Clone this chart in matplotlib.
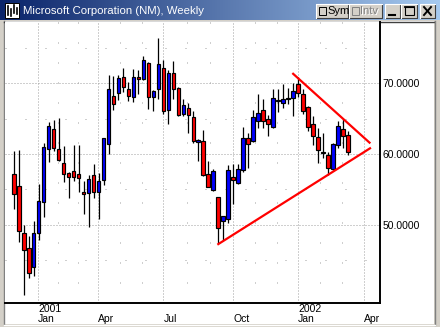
import numpy as np
import matplotlib
matplotlib.use("Agg")
import matplotlib.pyplot as plt
from matplotlib.patches import Rectangle
from matplotlib.colors import LinearSegmentedColormap

# weekly candles, late Nov 2000 .. mid Mar 2002
opens = [57.2, 55.5, 48.9, 46.7, 44.1, 48.9, 53.3, 60.7, 63.5, 60.7,
         58.7, 57.3, 57.6, 57.2, 54.6, 54.5, 57.1, 54.7, 56.4, 61.4,
         68.2, 68.6, 70.8, 69.2, 68.0, 70.8, 70.6, 72.8, 68.0, 69.2,
         72.1, 66.2, 71.4, 69.3, 65.6, 66.5, 65.2, 61.7, 61.8, 57.2,
         54.9, 53.9, 50.6, 50.9, 56.8, 55.9, 57.8, 62.2, 61.8, 64.6,
         66.2, 65.0, 63.8, 67.5, 67.2, 67.8, 67.9, 69.8, 68.4, 66.6,
         64.2, 62.4, 60.2, 59.9, 57.9, 61.2, 63.5, 62.7]
highs = [60.4, 60.5, 50.0, 48.5, 50.5, 55.8, 61.5, 64.5, 64.8, 65.1,
         61.1, 57.5, 61.2, 61.2, 56.2, 57.0, 58.6, 57.3, 62.3, 71.2,
         71.0, 71.2, 72.1, 70.2, 72.0, 71.9, 73.8, 73.0, 69.0, 76.3,
         73.3, 71.9, 73.1, 69.4, 67.7, 67.2, 66.1, 62.1, 63.4, 59.0,
         57.9, 54.0, 51.3, 58.4, 58.6, 58.6, 63.8, 63.0, 66.2, 68.4,
         67.7, 65.5, 69.1, 69.1, 69.9, 69.3, 70.0, 70.9, 69.1, 66.7,
         65.3, 63.6, 63.0, 60.3, 61.5, 64.7, 65.0, 63.2]
lows = [52.2, 47.6, 40.1, 42.5, 42.8, 47.9, 51.1, 58.8, 60.4, 59.0,
        56.0, 53.8, 56.2, 54.7, 51.5, 49.7, 53.8, 50.9, 55.6, 60.0,
        66.2, 67.6, 68.7, 67.4, 67.3, 68.5, 70.4, 66.3, 66.0, 67.7,
        65.6, 64.2, 67.7, 65.3, 65.4, 63.0, 61.5, 59.0, 56.9, 55.3,
        54.8, 47.4, 47.9, 50.3, 52.9, 55.8, 57.4, 58.0, 61.7, 63.6,
        63.7, 62.6, 63.7, 65.9, 66.5, 67.1, 65.4, 68.0, 65.6, 63.2,
        61.3, 58.7, 59.5, 57.1, 57.8, 60.8, 60.8, 59.8]
closes = [54.4, 49.2, 46.4, 43.2, 48.9, 53.4, 61.0, 63.9, 60.8, 59.2,
          57.2, 56.8, 56.7, 56.6, 54.4, 56.5, 54.6, 56.2, 62.2, 69.1,
          67.1, 70.7, 69.4, 68.2, 70.9, 70.5, 73.2, 68.0, 68.9, 72.7,
          66.1, 71.4, 69.2, 65.5, 66.9, 65.5, 61.8, 62.0, 57.0, 55.4,
          57.6, 49.6, 51.2, 57.8, 56.4, 57.9, 62.3, 61.4, 65.2, 65.8,
          64.6, 64.2, 67.9, 67.6, 67.7, 67.9, 68.9, 68.6, 66.1, 63.8,
          62.6, 60.6, 60.1, 58.0, 61.4, 64.0, 62.6, 60.3]

quarter_pos = [4.93, 16.95, 29.98, 44.0, 57.0, 70.2]
quarter_labels = ["2001\nJan", "\nApr", "\nJul", "\nOct", "2002\nJan", "\nApr"]
price_ticks = [50, 60, 70]
price_labels = ["50.0000", "60.0000", "70.0000"]
minor_prices = [45, 55, 65, 75]

# triangle drawn on the chart
upper_x = [56.0, 71.3]
upper_y = [71.3, 61.6]
lower_x = [41.0, 71.4]
lower_y = [47.3, 60.8]

title = "Microsoft Corporation (NM), Weekly"
FONT = "Liberation Sans"
W, H = 440, 327

fig = plt.figure(figsize=(W / 100, H / 100), dpi=100, facecolor="#d4d0c8")

# window chrome in pixel coordinates
ui = fig.add_axes([0, 0, 1, 1])
ui.axis("off")
cmap = LinearSegmentedColormap.from_list("tb", ["#0a246a", "#a6caf0"])
ui.imshow(np.linspace(0, 1, 256)[None, :], extent=[0, W, 20, 0], cmap=cmap,
          aspect="auto")
ui.add_patch(Rectangle((4, 21), 430, 303, fc="white", ec="none"))
ui.plot([3.5, 3.5], [21, 324], color="#808080", lw=1)
ui.plot([3.5, 434], [21.5, 21.5], color="#404040", lw=1)
ui.plot([434.5, 434.5], [21, 325], color="#808080", lw=1)
ui.plot([3.5, 434.5], [324.5, 324.5], color="#ffffff", lw=1)

# icon
ui.add_patch(Rectangle((5, 3), 14, 15, fc="white", ec="black", lw=0.7))
for bx, top, bot in [(8, 6, 15), (11, 9, 16), (14, 5, 13), (17, 8, 14)]:
    ui.plot([bx, bx], [top, bot], color="black", lw=1.2)
ui.text(23, 10.5, title, color="white", fontsize=8.2, family=FONT,
        va="center", ha="left")


def button(x0, y0, w, h):
    ui.add_patch(Rectangle((x0, y0), w, h, fc="#d4d0c8", ec="none"))
    ui.plot([x0, x0 + w, x0 + w], [y0 + h, y0 + h, y0], color="#404040", lw=0.8)
    ui.plot([x0, x0, x0 + w], [y0 + h, y0, y0], color="white", lw=0.8)


button(316, 4, 32, 14)
ui.add_patch(Rectangle((318.5, 7), 7, 8, fc="#d4d0c8", ec="black", lw=0.7))
ui.text(327, 11.3, "Sym", fontsize=8, family=FONT, va="center", ha="left")
button(349, 4, 33, 14)
ui.add_patch(Rectangle((351.5, 7), 7, 8, fc="#d4d0c8", ec="#808080", lw=0.7))
ui.text(360.6, 11.8, "Intv", fontsize=8, family=FONT, va="center", ha="left",
        color="white")
ui.text(360, 11.3, "Intv", fontsize=8, family=FONT, va="center", ha="left",
        color="#808080")
button(385, 4, 15, 14)
ui.plot([389, 395], [15, 15], color="black", lw=1.5)
button(401, 4, 16, 14)
ui.add_patch(Rectangle((404.5, 6.5), 9, 8.5, fc="none", ec="black", lw=0.8))
ui.plot([404.5, 413.5], [7.3, 7.3], color="black", lw=1.3)
button(420, 4, 15, 14)
ui.plot([424, 431], [7, 15], color="black", lw=1.4)
ui.plot([424, 431], [15, 7], color="black", lw=1.4)
ui.set_xlim(0, W)
ui.set_ylim(H, 0)

# chart
ax = fig.add_axes([5 / W, 24 / H, 375 / W, 281 / H], zorder=2)
ax.set_facecolor("white")
x = np.arange(len(opens))
o = np.array(opens)
c = np.array(closes)
colors = np.where(c >= o, "#0000ff", "#ff0000")
ax.vlines(x, lows, highs, color="black", lw=0.9, zorder=3)
ax.bar(x, np.maximum(np.abs(c - o), 0.12), bottom=np.minimum(o, c), width=0.74,
       color=colors, edgecolor="black", linewidth=0.85, zorder=4)

ax.plot(upper_x, upper_y, color="#ff0000", lw=1.6, zorder=5)
ax.plot(lower_x, lower_y, color="#ff0000", lw=1.6, zorder=5)

ax.set_xlim(-1.74, 73.4)
ax.set_ylim(39.0, 78.6)

ax.set_xticks(quarter_pos, quarter_labels, ha="left", va="top",
              fontsize=7.5, family=FONT, linespacing=0.95)
minor_x = []
for a, b in zip(quarter_pos[:-1], quarter_pos[1:]):
    minor_x += [a + (b - a) / 3, a + 2 * (b - a) / 3]
ax.set_xticks(minor_x, minor=True)
ax.yaxis.tick_right()
ax.set_yticks(price_ticks, price_labels, fontsize=7.5, family=FONT)
ax.set_yticks(minor_prices, minor=True)
ax.tick_params(which="both", length=0, pad=1.5)
ax.tick_params(axis="x", pad=1)

ax.grid(which="major", color="#a0a0a0", lw=0.72, ls=(0, (1, 2)))
ax.grid(which="minor", color="#a0a0a0", lw=0.72, ls=(0, (1, 19)))
ax.set_axisbelow(True)

for side in ["left", "top"]:
    ax.spines[side].set_visible(False)
ax.spines["bottom"].set_linewidth(1.4)
ax.spines["right"].set_linewidth(1.4)

fig.savefig("out.png", dpi=100, facecolor=fig.get_facecolor())
